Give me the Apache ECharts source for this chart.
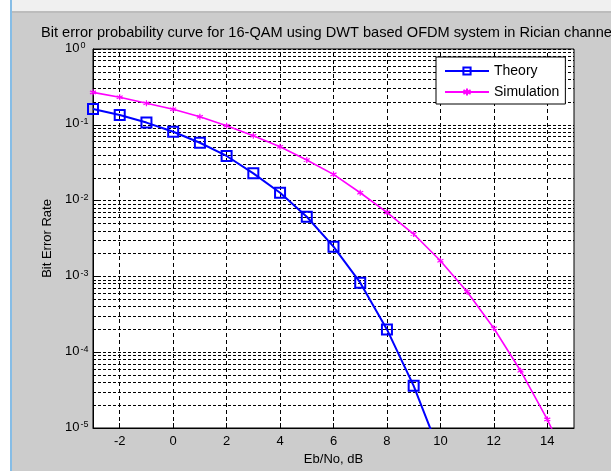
<!DOCTYPE html>
<html>
<head>
<meta charset="utf-8">
<script src="https://cdn.jsdelivr.net/npm/echarts@6/dist/echarts.min.js"></script>
<style>
  html, body { margin: 0; padding: 0; background: #cccccc; }
  #chart { width: 611px; height: 471px; }
</style>
</head>
<body>
<div id="chart"></div>
<script>
// Eb/No points (dB)
const theorySnr = [-3, -2, -1, 0, 1, 2, 3, 4, 5, 6, 7, 8, 9, 10]
const theoryBer = [0.162, 0.135, 0.107, 0.081, 0.058, 0.0388, 0.0229, 0.0127, 0.00613, 0.00247, 8.26e-4, 2.0e-4, 3.6e-5, 4.5e-6]
const simSnr = [-3, -2, -1, 0, 1, 2, 3, 4, 5, 6, 7, 8, 9, 10, 11, 12, 13, 14, 15]
const simBer = [0.268, 0.231, 0.192, 0.160, 0.128, 0.0973, 0.0718, 0.0514, 0.0343, 0.0222, 0.0127, 0.0070, 0.00362, 0.00161, 6.28e-4, 2.07e-4, 5.7e-5, 1.30e-5, 2.3e-6]
const xTicks = [-2, 0, 2, 4, 6, 8, 10, 12, 14]
const xMin = -3
const xMax = 15

// grid lines: minor 2..9 in every decade, and vertical ones at the x ticks
let hLines = []
for (let e = -5; e < 0; e++) {
  for (let m = 2; m <= 9; m++) {
    let v = m * Math.pow(10, e)
    hLines.push({ coords: [[xMin, v], [xMax, v]] })
  }
}
let vLines = xTicks.map(x => ({ coords: [[x, 1e-5], [x, 1]] }))

const font = 'Liberation Sans, Arial, sans-serif'
const asterisk = 'path://M5,0 L5,10 M0.7,2.5 L9.3,7.5 M0.7,7.5 L9.3,2.5'

let chart = echarts.init(document.getElementById('chart'))
chart.setOption({
  backgroundColor: '#cccccc',
  animation: false,
  textStyle: { fontFamily: font },
  graphic: [
    { type: 'rect', shape: { x: 0, y: 0, width: 10, height: 471 }, style: { fill: '#ffffff' }, silent: true },
    { type: 'rect', shape: { x: 10, y: 0, width: 2, height: 471 }, style: { fill: '#86bde6' }, silent: true },
    { type: 'rect', shape: { x: 12, y: 0, width: 599, height: 11 }, style: { fill: '#f0f0f0' }, silent: true },
    { type: 'rect', shape: { x: 12, y: 11, width: 599, height: 2 }, style: { fill: '#bcbcbc' }, silent: true }
  ],
  title: {
    text: 'Bit error probability curve for 16-QAM using DWT based OFDM system in Rician channel',
    left: 41,
    top: 25,
    padding: 0,
    textStyle: { fontSize: 14.6, fontWeight: 'normal', color: '#000', fontFamily: font }
  },
  legend: {
    data: ['Theory', 'Simulation'],
    orient: 'vertical',
    left: 436,
    top: 57,
    backgroundColor: '#ffffff',
    borderColor: '#000',
    borderWidth: 1,
    borderRadius: 0,
    padding: [6, 6, 4, 8],
    itemWidth: 44,
    itemHeight: 9,
    itemGap: 5,
    textStyle: { fontSize: 14, lineHeight: 16, color: '#000', fontFamily: font }
  },
  grid: {
    left: 93,
    top: 49,
    width: 481,
    height: 379,
    show: true,
    backgroundColor: '#ffffff',
    borderColor: '#000',
    borderWidth: 1
  },
  xAxis: {
    type: 'value',
    min: xMin,
    max: xMax,
    name: 'Eb/No, dB',
    nameLocation: 'middle',
    nameGap: 25,
    nameTextStyle: { fontSize: 13, color: '#000' },
    axisLine: { onZero: false, lineStyle: { color: '#000' } },
    axisTick: { inside: true, length: 5, customValues: xTicks, lineStyle: { color: '#000' } },
    axisLabel: { customValues: xTicks, fontSize: 13, color: '#000', margin: 7 },
    splitLine: { show: false }
  },
  yAxis: {
    type: 'log',
    logBase: 10,
    min: 1e-5,
    max: 1,
    name: 'Bit Error Rate',
    nameLocation: 'middle',
    nameGap: 38,
    nameTextStyle: { fontSize: 13, color: '#000' },
    axisLine: { onZero: false, lineStyle: { color: '#000' } },
    axisTick: { inside: true, length: 5, lineStyle: { color: '#000' } },
    axisLabel: {
      align: 'left',
      margin: 28,
      padding: [0, 0, 2, 0],
      formatter: v => '{b|10}{s|' + Math.round(Math.log10(v)) + '}',
      rich: {
        b: { fontSize: 13, lineHeight: 13, verticalAlign: 'bottom', color: '#000', fontFamily: font },
        s: { fontSize: 9, lineHeight: 9, verticalAlign: 'top', padding: [0, 0, 8, 1], color: '#000', fontFamily: font }
      }
    },
    splitLine: { show: true, lineStyle: { color: '#000', type: [3, 2], width: 1 } }
  },
  series: [
    {
      name: 'hgrid',
      type: 'lines',
      coordinateSystem: 'cartesian2d',
      silent: true,
      z: 1,
      lineStyle: { color: '#000', type: [3, 2], width: 1, opacity: 1 },
      data: hLines
    },
    {
      name: 'vgrid',
      type: 'lines',
      coordinateSystem: 'cartesian2d',
      silent: true,
      z: 1,
      lineStyle: { color: '#000', type: [4, 3], width: 1, opacity: 1 },
      data: vLines
    },
    {
      name: 'Theory',
      type: 'line',
      data: theorySnr.map((x, i) => [x, theoryBer[i]]),
      symbol: 'rect',
      symbolSize: 10,
      z: 3,
      itemStyle: { color: 'rgba(255,255,255,0)', borderColor: '#0000ff', borderWidth: 2 },
      lineStyle: { color: '#0000ff', width: 2 }
    },
    {
      name: 'Simulation',
      type: 'line',
      data: simSnr.map((x, i) => [x, simBer[i]]),
      symbol: asterisk,
      symbolSize: 6,
      z: 2,
      itemStyle: { color: '#ff00ff', borderColor: '#ff00ff', borderWidth: 1.2 },
      lineStyle: { color: '#ff00ff', width: 1.6 }
    }
  ]
})
</script>
</body>
</html>
